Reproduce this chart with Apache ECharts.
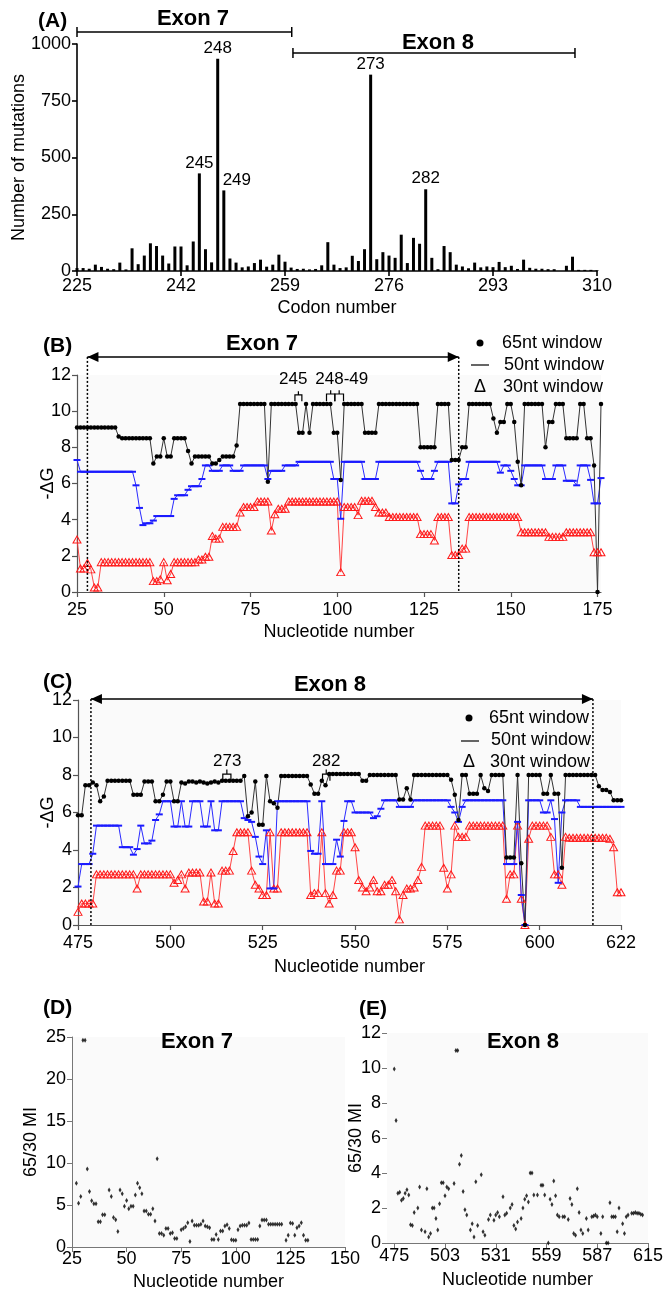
<!DOCTYPE html>
<html>
<head>
<meta charset="utf-8">
<script src="https://cdn.jsdelivr.net/npm/echarts@6/dist/echarts.min.js"></script>
<style>
  html, body { margin: 0; padding: 0; background: #fff; }
  #main { width: 666px; height: 1291px; }
</style>
</head>
<body>
<div id="main"></div>
<script>
// ---- (A) number of mutations per codon, codons 225..310
const codonStart = 225;
const mutations = [13,13,10,28,18,10,8,37,7,100, 30,68,122,110,68,33,108,108,25,130,
  430,96,38,935,355,55,37,16,20,35, 50,19,28,72,41,15,9,10,7,9,
  25,127,28,13,16,67,44,96,865,52, 83,68,58,160,35,146,120,360,58,8,
  110,83,28,20,12,37,16,20,17,40, 17,23,9,50,14,10,10,8,8,0,
  23,63,5,5,5,3];
const labelledCodons = [245, 248, 249, 273, 282];
const codonTicks = [225, 242, 259, 276, 293, 310];

// ---- (B) exon 7 folding energy, nucleotides 25..176
const ntStartB = 25;
const b65 = [9.1,9.1,9.1,9.1,9.1,9.1,9.1,9.1,9.1,9.1,9.1,9.1,
  8.6,8.5,8.5,8.5,8.5,8.5,8.5,8.5,8.5,8.5,
  7.1,7.5,7.5,8.5,7.5,7.5,8.5,8.5,8.5,8.5,
  7.8,7.1,7.5,7.5,7.5,7.5,7.5,7.1,7.1,7.3,7.5,7.5,7.5,7.5,8.1,
  10.4,10.4,10.4,10.4,10.4,10.4,10.4,10.4,
  6.1,
  10.4,10.4,10.4,10.4,10.4,10.4,10.4,10.4,
  8.8,8.8,10.4,8.8,
  10.4,10.4,10.4,10.4,10.4,10.4,
  8.8,8.8,6.2,
  10.4,10.4,10.4,10.4,10.4,10.4,
  8.8,8.8,8.8,8.8,
  10.4,10.4,10.4,10.4,10.4,10.4,10.4,10.4,10.4,10.4,10.4,10.4,
  8.0,8.0,8.0,8.0,8.0,
  10.4,10.4,10.4,10.4,
  7.3,7.3,7.3,8.0,8.0,
  10.4,10.4,10.4,10.4,10.4,10.4,10.4,
  9.6,8.8,9.4,9.4,10.4,10.4,9.4,7.2,5.9,
  10.4,10.4,10.4,10.4,10.4,10.4,
  8.0,9.4,9.4,10.4,10.4,10.4,
  8.5,8.5,8.5,8.5,10.4,10.4,8.5,8.5,7.0,0,10.4];
const b50 = [7.3,
  6.65,6.65,6.65,6.65,6.65,6.65,6.65,6.65,6.65,6.65,6.65,6.65,6.65,6.65,6.65,6.65,
  5.9,4.65,3.7,3.8,3.8,3.95,
  4.2,4.2,4.2,4.2,4.2,
  5.15,5.35,5.35,5.35,5.65,5.85,5.85,5.85,6.25,
  7.0,7.0,6.7,6.7,6.7,7.0,7.0,7.0,6.7,6.7,6.7,
  7.0,7.0,7.0,7.0,7.0,7.0,7.0,
  6.25,6.7,6.7,6.7,6.7,7.0,7.0,7.0,7.0,
  7.2,7.2,7.2,7.2,7.2,7.2,7.2,7.2,7.2,7.2,
  6.25,6.25,4.05,
  7.2,7.2,7.2,7.2,7.2,7.2,
  6.25,6.25,6.25,6.25,
  7.2,7.2,7.2,7.2,7.2,7.2,7.2,7.2,7.2,7.2,7.2,7.2,
  6.7,6.25,6.25,6.25,6.7,
  7.2,7.2,7.2,7.2,
  4.9,4.9,5.95,6.25,6.25,
  7.2,7.2,7.2,7.2,7.2,7.2,7.2,7.2,7.2,
  6.6,7.0,7.0,6.7,6.25,5.9,5.9,
  7.0,7.0,7.0,7.0,7.0,7.0,
  6.25,6.25,6.25,7.0,7.0,7.0,
  6.15,6.15,6.15,5.9,7.0,7.0,7.0,6.2,4.9,4.9,6.3];
const b30 = [2.9,1.3,1.3,1.6,1.25,0.25,0.25,
  1.65,1.65,1.65,1.65,1.65,1.65,1.65,1.65,1.65,1.65,1.65,1.65,1.65,1.65,1.65,
  0.6,0.6,0.7,1.65,0.65,1.0,
  1.65,1.65,1.65,1.65,1.65,1.65,1.65,
  1.8,1.8,1.95,1.95,
  3.1,2.95,2.95,3.6,3.6,3.6,3.6,3.6,
  4.4,4.7,4.7,4.7,4.7,5.0,5.0,5.0,5.0,
  3.4,4.3,4.6,4.6,4.6,
  5.0,5.0,5.0,5.0,5.0,5.0,5.0,5.0,5.0,5.0,5.0,5.0,5.0,5.0,5.0,
  1.1,
  4.7,4.7,4.7,4.7,4.25,5.05,5.05,5.05,5.05,4.7,
  4.4,4.4,4.4,
  4.15,4.15,4.15,4.15,4.15,4.15,4.15,4.15,4.15,
  3.2,3.2,3.2,3.2,2.85,
  4.15,4.15,4.15,4.15,
  2.05,2.05,2.05,2.4,2.4,
  4.15,4.15,4.15,4.15,4.15,4.15,4.15,4.15,4.15,4.15,4.15,4.15,4.15,4.15,4.15,
  3.3,3.3,3.3,3.3,3.3,3.3,3.3,3.3,
  3.05,3.05,3.05,3.05,3.05,
  3.3,3.3,3.3,3.3,3.3,3.3,3.3,3.3,
  2.2,2.2,2.2];
const ntTicksB = [25, 50, 75, 100, 125, 150, 175];

// ---- (C) exon 8 folding energy, nucleotides 475..622
const ntStartC = 475;
const c65 = [5.85,5.85,7.45,7.45,7.6,7.45,6.6,6.85,
  7.7,7.7,7.7,7.7,7.7,7.7,7.7,
  6.95,6.95,6.95,7.65,7.65,7.65,
  6.6,6.6,6.95,7.65,7.65,6.6,6.6,
  7.6,7.55,7.65,7.65,7.6,7.65,7.6,7.55,7.6,7.65,7.6,
  7.7,7.7,7.7,7.7,7.7,7.7,
  7.95,5.8,6.0,7.65,5.35,5.35,7.95,6.6,6.5,6.25,
  7.95,7.95,7.95,7.95,7.95,7.95,7.95,7.95,
  7.5,7.0,7.0,7.7,7.45,
  8.05,8.05,8.05,8.05,8.05,8.05,8.05,8.05,8.05,
  7.7,7.7,
  8.0,8.0,8.0,8.0,8.0,8.0,8.0,8.0,
  6.7,6.7,7.3,6.7,
  8.0,8.0,8.0,8.0,8.0,8.0,8.0,8.0,8.0,8.0,
  7.75,6.95,5.6,8.0,8.0,
  7.0,7.0,7.0,8.0,7.3,7.15,
  8.0,8.0,8.0,8.0,
  3.6,3.6,3.6,8.0,3.3,0,
  8.0,8.0,8.0,8.0,
  7.0,7.0,8.0,7.0,7.0,3.05,
  8.0,8.0,8.0,8.0,8.0,8.0,8.0,8.0,8.0,
  7.4,7.2,7.2,7.1,6.65,6.65,6.65];
const c50 = [2.05,3.25,3.25,3.25,3.8,
  5.3,5.3,5.3,5.3,5.3,5.3,5.3,
  4.15,4.15,4.15,3.75,4.05,5.3,4.35,4.35,4.5,5.6,5.9,
  6.6,6.6,6.6,5.25,5.25,6.6,5.25,5.25,
  6.6,6.6,6.6,5.25,5.25,6.6,5.05,5.05,
  6.6,6.6,6.6,6.6,6.6,6.6,
  5.7,5.6,5.5,4.7,3.65,3.25,5.05,1.95,1.95,
  6.6,6.6,6.6,6.6,6.6,6.6,6.6,6.6,6.6,
  3.95,3.8,3.8,6.6,3.25,3.25,3.25,4.55,3.65,5.55,6.6,6.6,
  6.0,6.0,6.0,6.0,6.0,5.7,5.8,6.2,
  6.65,6.65,6.65,6.65,
  6.3,6.3,6.3,6.3,
  6.65,6.65,6.65,6.65,6.65,6.65,6.65,6.65,6.65,6.65,
  6.3,6.0,5.5,6.3,
  6.65,6.65,6.65,6.65,6.65,6.65,6.65,6.65,6.65,6.65,6.65,
  3.25,3.25,3.25,5.5,1.6,0,
  6.65,6.65,6.65,6.65,
  6.0,6.0,6.65,5.65,2.25,6.0,
  6.65,6.65,6.65,6.65,
  6.3,6.3,6.3,6.3,6.3,6.3,6.3,6.3,6.3,6.3,6.3,6.3];
const c30 = [0.7,1.15,1.15,1.15,1.15,
  2.7,2.7,2.7,2.7,2.7,2.7,2.7,2.7,2.7,2.7,2.7,
  1.95,
  2.7,2.7,2.7,2.7,2.7,2.7,2.7,2.7,2.7,
  2.25,2.4,2.7,1.95,2.8,2.8,2.8,2.8,1.25,1.25,2.8,1.15,1.15,
  2.9,2.9,2.9,3.95,4.95,4.95,4.95,4.95,
  2.9,2.15,1.95,1.6,1.6,4.95,1.95,1.95,
  4.95,4.95,4.95,4.95,4.95,4.95,4.95,4.95,
  1.6,1.7,1.7,4.95,1.7,1.15,1.6,2.9,2.9,4.95,4.95,4.95,
  4.15,2.4,2.0,1.8,2.0,2.4,1.8,1.8,2.15,2.15,2.4,1.8,0.3,1.6,1.95,1.95,2.0,2.4,3.1,
  5.3,5.3,5.3,5.3,5.3,
  3.05,1.95,2.7,5.3,4.7,4.7,4.7,
  5.3,5.3,5.3,5.3,5.3,5.3,5.3,5.3,5.3,5.3,
  1.4,2.7,2.7,5.3,1.4,0,4.6,
  5.3,5.3,5.3,5.3,5.3,
  4.7,2.7,2.7,2.15,4.7,
  4.65,4.65,4.65,4.65,4.65,4.65,4.65,4.65,4.65,4.65,4.65,
  4.6,4.15,1.75,1.75];
const ntTicksC = [475, 500, 525, 550, 575, 600, 622];

// ---- (D) exon 7 65/30 MI
const dNt = [27,28,29,30,31,32,33,34,35,36,37,38,39,40,42,43,44,45,46,47,48,49,50,51,52,53,54,55,56,57,
  58,59,60,61,62,63,64,65,66,67,68,69,70,71,72,73,75,76,77,78,79,80,81,82,83,84,85,86,87,88,
  89,90,91,92,93,94,95,96,97,98,99,100,101,102,103,104,105,106,107,108,109,110,111,112,113,114,
  115,116,117,118,119,120,121,123,124,125,126,127,128,129,130,131,132,133];
const dMI = [7.6,5.2,6.0,24.6,24.6,9.3,6.6,5.5,5.15,5.15,3.0,3.0,3.85,3.85,6.8,6.0,3.5,3.25,1.85,6.8,6.35,4.85,5.55,4.55,4.85,4.85,6.2,7.6,7.05,6.35,
  4.3,4.3,3.9,3.9,4.55,3.1,10.5,1.6,1.6,1.4,2.2,2.2,1.6,1.7,1.0,1.0,2.05,2.2,2.4,2.9,0.65,3.1,2.6,2.6,2.6,2.7,3.1,2.5,2.4,2.3,
  0.9,0.9,1.5,0.9,1.9,1.9,2.5,2.65,2.2,0.85,0.8,0.8,2.05,2.5,2.6,2.6,2.6,2.85,0.9,0.9,0.9,0.9,2.5,3.2,3.2,3.2,
  2.7,2.7,2.7,2.7,2.7,2.7,2.7,0.8,1.4,2.85,2.8,1.4,2.3,2.5,2.9,1.4,0.8,0.8];
const dTicks = [25, 50, 75, 100, 125, 150];

// ---- (E) exon 8 65/30 MI
const eNt = [475,476,477,478,479,480,481,482,483,484,485,486,488,489,490,492,493,494,495,496,497,498,499,500,501,502,503,504,505,508,
  509,510,511,512,513,514,515,517,518,519,520,521,523,524,525,527,528,530,531,532,533,535,536,537,539,540,541,542,543,545,
  546,547,548,549,550,551,552,554,556,557,558,560,561,562,563,564,565,566,568,569,571,572,573,574,575,576,577,578,579,581,
  582,584,585,586,587,589,590,592,593,594,595,596,597,598,599,601,602,603,604,606,607,608,609,610,611,612];
const eMI = [9.95,7.0,2.85,2.9,2.45,2.55,2.85,3.05,2.75,1.05,1.0,1.75,2.0,3.2,0.75,0.65,3.1,0.35,0.55,2.0,2.0,1.4,0.75,2.25,3.45,3.45,2.7,3.2,3.1,3.4,
  11.0,11.0,4.5,5.0,2.95,1.9,1.6,0.75,1.1,0.35,3.5,1.0,3.9,0.65,0.45,1.35,1.6,1.3,1.6,1.75,1.5,2.65,1.6,1.7,2.0,2.2,1.0,0.8,1.2,1.4,
  2.0,2.5,2.7,2.35,4.0,4.0,2.75,2.75,3.3,3.3,2.75,0.0,2.5,2.2,3.55,2.7,1.6,1.5,1.5,1.5,1.35,2.55,2.2,0.55,0.45,3.1,1.75,0.75,0.55,1.4,
  0.75,1.5,1.55,1.6,1.5,0.55,1.5,0.0,0.0,2.3,1.5,1.5,1.5,0.65,2.0,1.1,0.55,1.5,1.6,1.7,1.7,1.75,1.7,1.7,1.65,1.6];
const eTicks = [475, 503, 531, 559, 587, 615];

const FONT = 'Liberation Sans';
const withX = (start, arr) => arr.map((v, i) => [start + i, v]);
const zip = (xs, ys) => xs.map((x, i) => [x, ys[i]]);

const chartDom = document.getElementById('main');
const myChart = echarts.init(chartDom);

function axisStyle(color, width) {
  return {
    axisLine: { show: true, lineStyle: { color: color, width: width } },
    axisTick: { show: true, length: 5, lineStyle: { color: color, width: width } },
    axisLabel: { color: '#000', fontSize: 18, fontFamily: FONT, margin: 6, formatter: v => String(v) },
    splitLine: { show: false },
    nameMoveOverlap: false,
    nameTextStyle: { color: '#000', fontSize: 18, fontFamily: FONT }
  };
}

function xAxis(grid, min, max, ticks, name, gap, color, width, margin) {
  const base = axisStyle(color, width);
  const ax = Object.assign({}, base, {
    type: 'value', gridIndex: grid, min: min, max: max,
    name: name, nameLocation: 'middle', nameGap: gap
  });
  ax.axisLabel = Object.assign({}, base.axisLabel, { margin: margin, customValues: ticks });
  ax.axisTick = Object.assign({}, base.axisTick, { customValues: ticks });
  return ax;
}

function yAxis(grid, max, interval, name, gap, color, width) {
  const base = axisStyle(color, width);
  return Object.assign({}, base, {
    type: 'value', gridIndex: grid, min: 0, max: max, interval: interval,
    name: name, nameLocation: 'middle', nameGap: gap
  });
}

const energySeries = (grid, start, d65, d50, d30) => [
  {
    name: '30nt window', type: 'line', xAxisIndex: grid, yAxisIndex: grid,
    data: withX(start, d30), symbol: 'triangle', symbolSize: [8, 7],
    itemStyle: { color: 'rgba(255,255,255,0)', borderColor: '#ff1a1a', borderWidth: 1 },
    lineStyle: { color: '#ff3030', width: 0.9 }
  },
  {
    name: '50nt window', type: 'line', xAxisIndex: grid, yAxisIndex: grid,
    data: withX(start, d50), symbol: 'rect', symbolSize: [7, 2],
    itemStyle: { color: '#1a1aff' },
    lineStyle: { color: '#2a2aff', width: 1 }
  },
  {
    name: '65nt window', type: 'line', xAxisIndex: grid, yAxisIndex: grid,
    data: withX(start, d65), symbol: 'circle', symbolSize: 4.5,
    itemStyle: { color: '#000' },
    lineStyle: { color: '#333', width: 1 }
  }
];

const gridBase = { outerBoundsMode: 'none', containLabel: false };
const option = {
  animation: false,
  backgroundColor: '#fff',
  textStyle: { fontFamily: FONT },
  grid: [
    Object.assign({ left: 77, top: 44, width: 520, height: 227 }, gridBase),
    Object.assign({ left: 77, top: 375, width: 524, height: 217, show: true, backgroundColor: '#fafafa', borderWidth: 0 }, gridBase),
    Object.assign({ left: 78, top: 700, width: 543, height: 225, show: true, backgroundColor: '#fafafa', borderWidth: 0 }, gridBase),
    Object.assign({ left: 72, top: 1037, width: 273, height: 210, show: true, backgroundColor: '#fafafa', borderWidth: 0 }, gridBase),
    Object.assign({ left: 387, top: 1033, width: 261, height: 210, show: true, backgroundColor: '#fafafa', borderWidth: 0 }, gridBase)
  ],
  xAxis: [
    xAxis(0, 225, 310, codonTicks, 'Codon number', 28, '#000', 1.6, 6),
    xAxis(1, 25, 176, ntTicksB, 'Nucleotide number', 31, '#555', 1.2, 9),
    xAxis(2, 475, 622, ntTicksC, 'Nucleotide number', 33, '#555', 1.2, 9),
    xAxis(3, 25, 150, dTicks, 'Nucleotide number', 26, '#777', 1, 3),
    xAxis(4, 471, 615, eTicks, 'Nucleotide number', 28, '#777', 1, 4)
  ],
  yAxis: [
    yAxis(0, 1000, 250, 'Number of mutations', 49, '#000', 1.6),
    yAxis(1, 12, 2, '-ΔG', 20, '#555', 1.2),
    yAxis(2, 12, 2, '-ΔG', 21, '#555', 1.2),
    yAxis(3, 25, 5, '65/30 MI', 32, '#777', 1),
    Object.assign(yAxis(4, 12, 2, '65/30 MI', 22, '#777', 1), { axisLine: { show: false } })
  ],
  series: [
    {
      name: 'mutations', type: 'bar', xAxisIndex: 0, yAxisIndex: 0, barWidth: 3,
      itemStyle: { color: '#000' },
      data: mutations.map((v, i) => {
        const codon = codonStart + i;
        const item = { value: [codon, v] };
        if (labelledCodons.includes(codon)) {
          item.label = {
            show: true, position: 'top', distance: 2, formatter: String(codon),
            fontSize: 17, fontFamily: FONT, color: '#000',
            offset: codon === 249 ? [13, 0] : [0, 0]
          };
        }
        return item;
      })
    },
    ...energySeries(1, ntStartB, b65, b50, b30),
    ...energySeries(2, ntStartC, c65, c50, c30),
    {
      name: 'exon7 MI', type: 'scatter', xAxisIndex: 3, yAxisIndex: 3,
      data: zip(dNt, dMI), symbol: 'diamond', symbolSize: [3, 5], itemStyle: { color: '#000' }
    },
    {
      name: 'exon8 MI', type: 'scatter', xAxisIndex: 4, yAxisIndex: 4,
      data: zip(eNt, eMI), symbol: 'diamond', symbolSize: [3, 5], itemStyle: { color: '#000' }
    }
  ]
};

myChart.setOption(option);

// annotations placed through the axes
const P = (g, x, y) => myChart.convertToPixel({ xAxisIndex: g, yAxisIndex: g }, [x, y]);
const txt = (x, y, text, size, bold, align) => ({
  type: 'text', x: x, y: y, z: 100,
  style: { text: text, fontSize: size, fontWeight: bold ? 'bold' : 'normal', fontFamily: FONT,
    fill: '#000', align: align || 'center', verticalAlign: 'middle' }
});
const seg = (a, b, w, dash) => ({
  type: 'line', z: 100, shape: { x1: a[0], y1: a[1], x2: b[0], y2: b[1] },
  style: { stroke: '#000', lineWidth: w, lineDash: dash || null }
});
const head = (tip, dir) => ({
  type: 'polygon', z: 100,
  shape: { points: [tip, [tip[0] - dir * 11, tip[1] - 5], [tip[0] - dir * 11, tip[1] + 5]] },
  style: { fill: '#000' }
});
const bracket = (g, x1, x2, yb, yt, ys) => {
  const a = P(g, x1, yb), b = P(g, x1, yt), c = P(g, x2, yt), d = P(g, x2, yb);
  const m1 = P(g, (x1 + x2) / 2, yt), m2 = P(g, (x1 + x2) / 2, ys);
  return [
    { type: 'polyline', z: 100, shape: { points: [a, b, c, d] }, style: { stroke: '#000', lineWidth: 1.2, fill: null } },
    seg(m1, m2, 1.2)
  ];
};

const graphics = [];
// (A)
graphics.push(txt(38, 21, '(A)', 21, true, 'left'));
const e7a = P(0, 225, 1053), e7b = P(0, 260.1, 1053);
graphics.push(seg(e7a, e7b, 1.5), seg([e7a[0], e7a[1] - 5], [e7a[0], e7a[1] + 5], 1.5), seg([e7b[0], e7b[1] - 5], [e7b[0], e7b[1] + 5], 1.5));
graphics.push(txt(193, 19, 'Exon 7', 22, true));
const e8a = P(0, 260.3, 960), e8b = P(0, 306.4, 960);
graphics.push(seg(e8a, e8b, 1.5), seg([e8a[0], e8a[1] - 5], [e8a[0], e8a[1] + 5], 1.5), seg([e8b[0], e8b[1] - 5], [e8b[0], e8b[1] + 5], 1.5));
graphics.push(txt(438, 43, 'Exon 8', 22, true));

// (B)
graphics.push(txt(43, 346, '(B)', 21, true, 'left'));
const bl = P(1, 28, 13), br = P(1, 135, 13);
graphics.push(seg(bl, br, 1.5), head(bl, -1), head(br, 1));
graphics.push(seg(bl, P(1, 28, 0), 1.5, [2, 2]), seg(br, P(1, 135, 0), 1.5, [2, 2]));
graphics.push(txt(262, 344, 'Exon 7', 22, true));
graphics.push(...bracket(1, 87.8, 89.8, 10.55, 10.9, 11.1));
graphics.push(...bracket(1, 96.9, 99.3, 10.55, 10.95, 11.15));
graphics.push(...bracket(1, 99.3, 101.8, 10.55, 10.95, 11.15));
let p = P(1, 87.3, 11.75); graphics.push(txt(p[0], p[1], '245', 17, false));
p = P(1, 101.3, 11.75); graphics.push(txt(p[0], p[1], '248-49', 17, false));
graphics.push({ type: 'circle', z: 100, shape: { cx: 480, cy: 343, r: 3.5 }, style: { fill: '#000' } });
graphics.push(seg([471, 365], [489, 365], 1.2));
graphics.push(txt(480, 387, 'Δ', 18, false));
graphics.push(txt(502, 343, '65nt window', 18, false, 'left'));
graphics.push(txt(504, 365, '50nt window', 18, false, 'left'));
graphics.push(txt(503, 387, '30nt window', 18, false, 'left'));

// (C)
graphics.push(txt(43, 682, '(C)', 21, true, 'left'));
const cl = P(2, 478.5, 12.05), cr = P(2, 614.4, 12.05);
graphics.push(seg(cl, cr, 1.5), head(cl, -1), head(cr, 1));
graphics.push(seg(cl, P(2, 478.5, 0), 1.5, [2, 2]), seg(cr, P(2, 614.4, 0), 1.5, [2, 2]));
graphics.push(txt(330, 685, 'Exon 8', 22, true));
graphics.push(...bracket(2, 514.2, 516.4, 7.7, 8.05, 8.3));
graphics.push(...bracket(2, 541.2, 543.2, 7.7, 8.05, 8.3));
p = P(2, 515.4, 8.75); graphics.push(txt(p[0], p[1], '273', 17, false));
p = P(2, 542.2, 8.75); graphics.push(txt(p[0], p[1], '282', 17, false));
graphics.push({ type: 'circle', z: 100, shape: { cx: 469, cy: 718, r: 3.5 }, style: { fill: '#000' } });
graphics.push(seg([461, 741], [479, 741], 1.2));
graphics.push(txt(469, 762, 'Δ', 18, false));
graphics.push(txt(489, 718, '65nt window', 18, false, 'left'));
graphics.push(txt(491, 740, '50nt window', 18, false, 'left'));
graphics.push(txt(490, 762, '30nt window', 18, false, 'left'));

// (D), (E)
graphics.push(txt(43, 1008, '(D)', 21, true, 'left'));
graphics.push(txt(197, 1042, 'Exon 7', 22, true));
graphics.push(txt(359, 1009, '(E)', 21, true, 'left'));
graphics.push(txt(523, 1042, 'Exon 8', 22, true));

myChart.setOption({ graphic: graphics });
</script>
</body>
</html>
